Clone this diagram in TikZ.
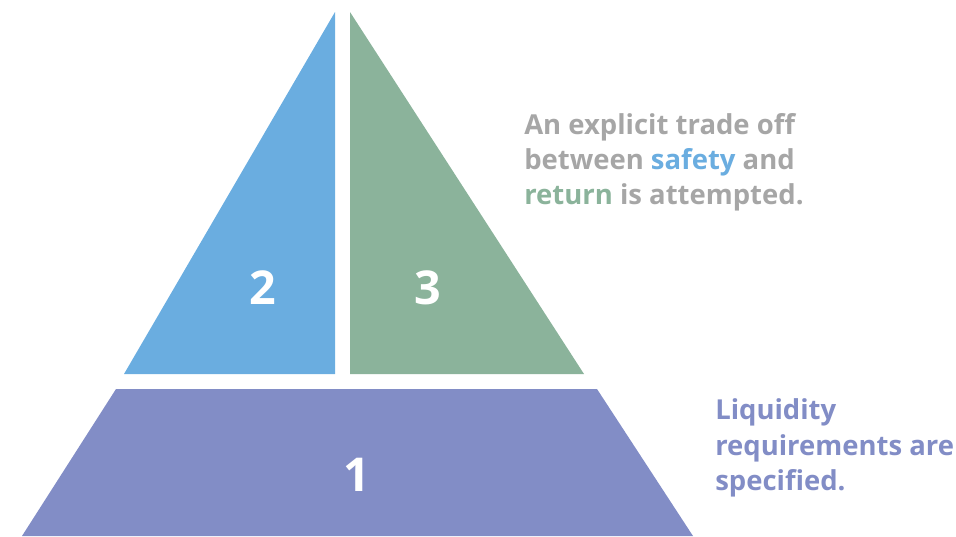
\documentclass[tikz,border=0pt]{standalone}
\usepackage{fontspec}
\setmainfont{Open Sans}
\usepackage{xcolor}
\usetikzlibrary{positioning}
\definecolor{pyblue}{HTML}{6AADE0}
\definecolor{pygreen}{HTML}{8BB39B}
\definecolor{pypurple}{HTML}{828DC6}
\definecolor{pygray}{HTML}{A6A6A6}
\tikzset{
  num/.style={text=white,font=\fontsize{35}{35}\selectfont\bfseries},
  note/.style={font=\fontsize{20.6}{26.4}\selectfont\bfseries,align=left,inner sep=0pt}
}

\begin{document}
\begin{tikzpicture}[x=0.75pt,y=-0.75pt]
\useasboundingbox (0,0) rectangle (956,536);
% pyramid
\fill[pyblue] (335,12) -- (335,374) -- (124,374) -- cycle;
\fill[pygreen] (350,12) -- (350,374) -- (584,374) -- cycle;
\fill[pypurple] (116,389) -- (597,389) -- (693,536) -- (22,536) -- cycle;

\node[num] (two) at (263,288) {2};
\node[num] (three) at (428,288) {3};
\node[num] (one) at (357,475) {1};

% notes
\node[note,text=pygray,anchor=west] (tradeoff) at (524,162)
  {An explicit trade off\\between \textcolor{pyblue}{safety} and\\\textcolor{pygreen}{return} is attempted.};
\node[note,text=pypurple,anchor=west] (liquidity) at (715,448)
  {Liquidity\\requirements are\\specified.};
\end{tikzpicture}
\end{document}
